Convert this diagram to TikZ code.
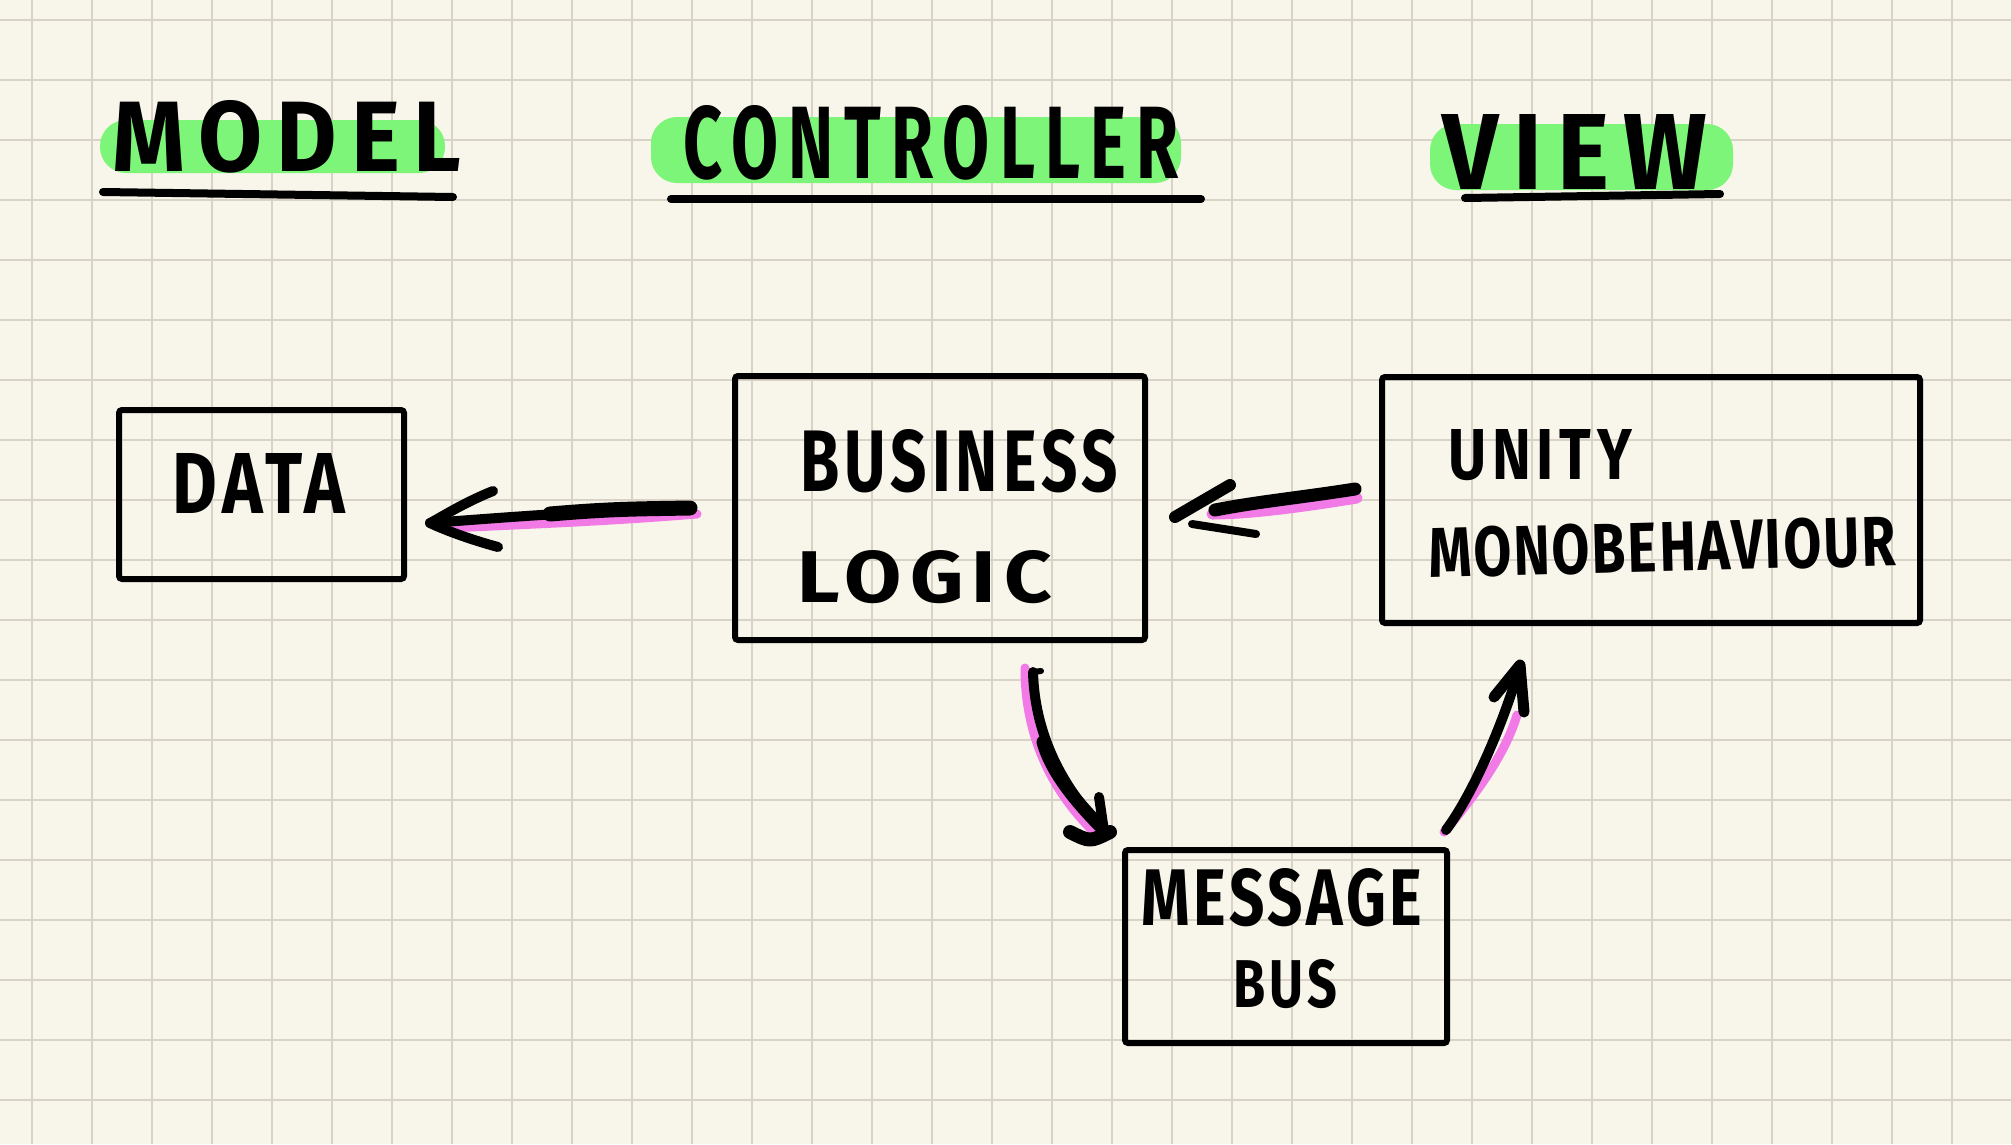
\documentclass[tikz,border=0pt]{standalone}
\usepackage{fontspec}
\setmainfont{Fira Sans}
\usepackage{graphicx}
\usetikzlibrary{calc}
\definecolor{paper}{HTML}{F8F5EA}
\definecolor{gridc}{HTML}{D8D3C6}
\definecolor{hl}{HTML}{7DF578}
\definecolor{pk}{HTML}{F27AE6}
\newcommand{\hw}[4]{\resizebox{#1pt}{#2pt}{\bfseries\addfontfeature{LetterSpace=#4}#3}}
\begin{document}
\begin{tikzpicture}[x=1pt,y=-1pt,
  boxnode/.style={draw=black, line width=6, rounded corners=3, inner sep=0},
  txt/.style={inner sep=0, anchor=center},
  ink/.style={draw=black, line cap=round, line join=round},
  hilite/.style={fill=hl, rounded corners=26},
  pinkstroke/.style={draw=pk, line width=9, line cap=round},
  uline/.style={draw=black, line width=8, line cap=round}]
\fill[paper] (0,0) rectangle (2012,1144);
\useasboundingbox (0,0) rectangle (2012,1144);
\foreach \i in {0,...,33} \draw[gridc, line width=2] ({32+60*\i},0) -- ({32+60*\i},1144);
\foreach \j in {0,...,18} \draw[gridc, line width=2] (0,{20+60*\j}) -- (2012,{20+60*\j});

% highlights
\fill[hilite] (100,120) rectangle (445,173);
\fill[hilite] (651,117) rectangle (1181,183);
\fill[hilite] (1430,124) rectangle (1733,190);

% titles
\node[txt] (model) at (287,137) {\hw{349}{71}{MODEL}{15}};
\node[txt] (controller) at (931,143) {\hw{495}{73}{CONTROLLER}{15}};
\node[txt] (view) at (1575,152) {\hw{265}{75}{VIEW}{15}};
\draw[uline] (103,192) -- (453,197);
\draw[uline] (671,199) -- (1201,199);
\draw[uline] (1465,198) -- (1720,194);

% boxes
\node[boxnode, minimum width=285, minimum height=169] (data) at (261.5,494.5) {};
\node[boxnode, minimum width=410, minimum height=264] (logic) at (940,508) {};
\node[boxnode, minimum width=538, minimum height=246] (unity) at (1651,500) {};
\node[boxnode, minimum width=322, minimum height=193] (bus) at (1286,946.5) {};

% box texts
\node[txt] (tdata) at (259,483) {\hw{172}{60}{DATA}{8}};
\node[txt, anchor=west] (tbusiness) at (800,461) {\hw{318}{62}{BUSINESS}{8}};
\node[txt, anchor=west] (tlogic) at (797,577) {\hw{255}{52}{LOGIC}{10}};
\node[txt, anchor=west] (tunity) at (1448,455) {\hw{184}{50}{UNITY}{10}};
\node[txt, rotate=1.5] (tmono) at (1662,547) {\hw{467}{50}{MONOBEHAVIOUR}{4}};
\node[txt] (tmessage) at (1282,898) {\hw{281}{57}{MESSAGE}{6}};
\node[txt] (tbus) at (1285,984) {\hw{104}{48}{BUS}{8}};

% connector end points
\coordinate (A1s) at ($(logic.west)+(-42,0)$);
\coordinate (A1e) at ($(data.east)+(23,28.5)$);
\coordinate (A2s) at ($(unity.west)+(-24,-11)$);
\coordinate (A2e) at ($(logic.east)+(27,9)$);
\coordinate (A3s) at ($(logic.south)+(93,29)$);
\coordinate (A3e) at ($(bus.north west)+(-12,-15)$);
\coordinate (A4s) at ($(bus.north east)+(-4,-17)$);
\coordinate (A4e) at ($(unity.south west)+(141,39)$);

% arrow 1: logic -> data
\draw[pinkstroke, line width=9] ($(A1s)+(7,6)$) .. controls +(-100,8) and +(80,-4) .. ($(A1e)+(20,5)$);
\draw[ink, line width=10] (A1s) .. controls +(-90,2) and +(80,-6) .. (A1e);
\draw[ink, line width=15] (A1s) .. controls +(-60,1) and +(60,-5) .. ($(A1e)+(120,-9)$);
\draw[ink, line width=10] ($(A1e)+(63,-32)$) .. controls +(-30,12) and +(10,-5) .. (A1e) .. controls +(10,5) and +(-30,-8) .. ($(A1e)+(68,24)$);

% arrow 2: unity -> logic
\draw[pinkstroke, line width=11] ($(A2s)+(2,9)$) .. controls +(-50,8) and +(40,0) .. ($(A2e)+(37,-3)$);
\draw[ink, line width=13] (A2s) .. controls +(-50,8) and +(40,-8) .. ($(A2e)+(40,-7)$);
\draw[ink, line width=12] ($(A2e)+(55,-32)$) -- (A2e);
\draw[ink, line width=8] ($(A2e)+(17,7)$) -- ($(A2e)+(81,17)$);

% arrow 3: logic -> bus
\draw[pinkstroke] ($(A3s)+(-8,-4)$) .. controls +(0,75) and +(-35,-35) .. ($(A3e)+(-18,-2)$);
\draw[ink, line width=10] (A3s) .. controls +(2,70) and +(-35,-35) .. ($(A3e)+(-6,-2)$);
\draw[ink, line width=13] ($(A3s)+(10,70)$) .. controls +(8,30) and +(-25,-25) .. ($(A3e)+(-8,-4)$);
\draw[ink, line width=6] (A3s) -- ($(A3s)+(8,-1)$);
\draw[ink, line width=10] ($(A3e)+(-11,-35)$) -- ($(A3e)+(-6,-1)$);
\draw[ink, line width=14] ($(A3e)+(-40,0)$) .. controls ($(A3e)+(-20,10)$) .. (A3e);

% arrow 4: bus -> unity
\draw[pinkstroke] ($(A4s)+(-2,2)$) .. controls +(30,-35) and +(-12,40) .. ($(A4e)+(-3,50)$);
\draw[ink, line width=10] (A4s) .. controls +(30,-40) and +(-12,45) .. (A4e);
\draw[ink, line width=11] ($(A4e)+(-26,32)$) -- (A4e) -- ($(A4e)+(4,47)$);
\end{tikzpicture}
\end{document}
